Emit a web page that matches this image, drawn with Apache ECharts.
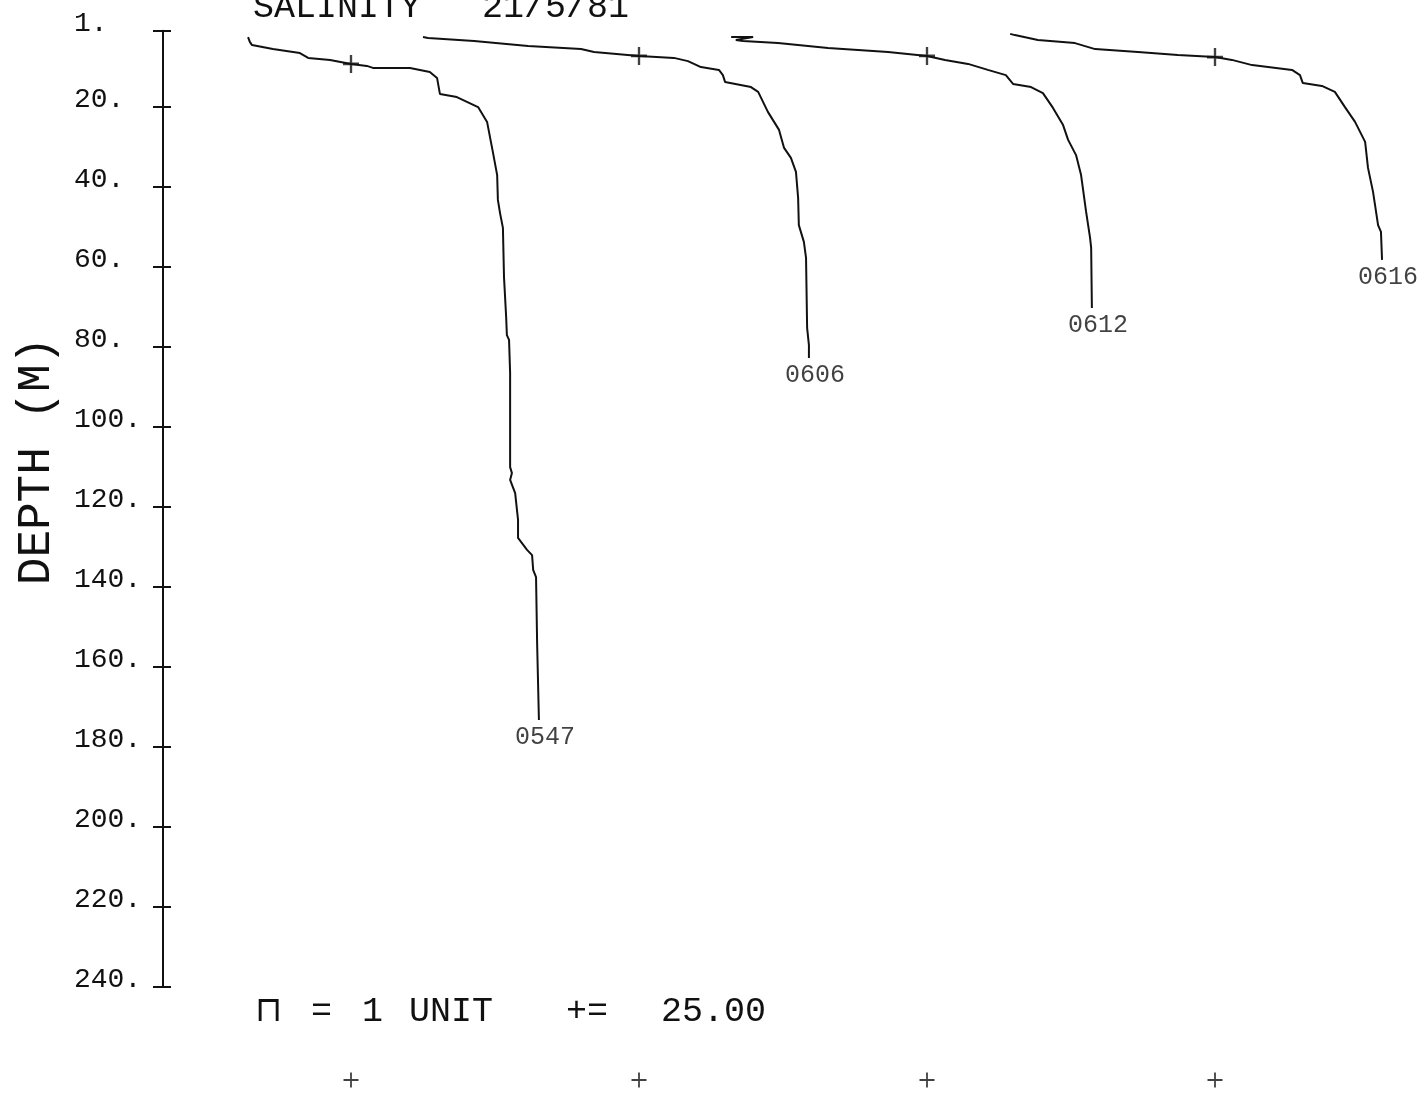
<!DOCTYPE html>
<html><head><meta charset="utf-8">
<script src="https://cdn.jsdelivr.net/npm/echarts/dist/echarts.min.js"></script>
<style>html,body{margin:0;padding:0;background:#fff}#c{width:1425px;height:1093px}</style>
</head><body><div id="c"></div>
<script>
// ---- data (depth in m, salinity) ----
const stations = ['0547', '0606', '0612', '0616'];
const depthTicks = [1, 20, 40, 60, 80, 100, 120, 140, 160, 180, 200, 220, 240];
const plusSalinity = 25.00;      // "+ = 25.00" reference value
const stationOffset = 8;         // salinity units between successive profiles

const depth0547 = [2.6, 3.8, 4.6, 5.6, 6.6, 7.8, 8.3, 9.3, 9.8, 10.3, 10.3, 11.3, 12.8, 16.8, 17.6, 20.1, 23.8, 31.3, 37.1, 43.3, 46.6, 50.3, 62.6, 72.6, 77.1, 78.3, 86.6, 110.1, 111.6, 113.3, 116.6, 123.3, 127.8, 130.8, 132.1, 135.8, 137.6, 154.1, 173.3];
const sal0547   = [22.14, 22.19, 22.25, 22.83, 23.58, 23.81, 24.42, 25.00, 25.44, 25.61, 26.64, 27.19, 27.39, 27.47, 27.94, 28.53, 28.78, 28.94, 29.06, 29.08, 29.14, 29.22, 29.25, 29.31, 29.33, 29.39, 29.42, 29.42, 29.47, 29.42, 29.56, 29.64, 29.64, 29.89, 30.03, 30.06, 30.14, 30.17, 30.22];

const depth0606 = [2.6, 2.8, 3.6, 4.8, 5.6, 6.3, 7.3, 7.8, 8.6, 10.1, 10.8, 12.1, 13.8, 15.1, 16.3, 21.3, 25.8, 30.3, 32.8, 36.3, 42.8, 49.6, 53.8, 57.8, 75.3, 79.6, 82.8];
const sal0606   = [19.00, 19.14, 20.42, 21.92, 23.39, 23.75, 25.00, 25.97, 26.36, 26.72, 27.22, 27.33, 27.39, 28.11, 28.31, 28.58, 28.89, 29.03, 29.22, 29.36, 29.42, 29.44, 29.58, 29.64, 29.67, 29.72, 29.72];

const depth0612 = [2.6, 2.6, 3.3, 3.6, 4.1, 5.3, 6.3, 7.3, 8.3, 9.3, 10.8, 12.1, 14.3, 15.1, 16.6, 20.3, 24.6, 28.3, 32.1, 37.1, 46.3, 52.8, 55.3, 70.3];
const sal0612   = [19.56, 20.17, 19.69, 19.89, 20.86, 22.25, 23.92, 25.00, 25.50, 26.14, 26.69, 27.19, 27.39, 27.89, 28.22, 28.50, 28.78, 28.92, 29.14, 29.28, 29.42, 29.53, 29.56, 29.58];

const depth0616 = [1.8, 2.1, 3.3, 4.1, 5.6, 6.3, 7.1, 7.6, 8.3, 9.6, 10.8, 12.1, 14.1, 14.8, 16.3, 20.1, 23.8, 28.8, 35.3, 41.3, 49.6, 51.3, 58.3];
const sal0616   = [19.31, 19.44, 20.08, 21.11, 21.67, 22.86, 23.97, 25.00, 25.47, 26.03, 27.14, 27.36, 27.44, 27.97, 28.33, 28.61, 28.89, 29.17, 29.25, 29.39, 29.53, 29.61, 29.64];

const plusDepth = [9.3, 7.3, 7.3, 7.6];   // depth where each profile crosses 25.00

// ---- layout ----
const profiles = [[depth0547, sal0547], [depth0606, sal0606], [depth0612, sal0612], [depth0616, sal0616]];
const gridLeft = 163, gridTop = 30.7, gridH = 956, gridW = 1262;
const pxPerUnit = 36, firstPlusX = 351;
const xMin = plusSalinity - (firstPlusX - gridLeft) / pxPerUnit;
const xMax = xMin + gridW / pxPerUnit;
const FONT = 'Liberation Mono';
const INK = '#111';
const plusPath = 'path://M8,0 L8,16 M0,8 L16,8';

const series = [];
profiles.forEach(([dep, sal], i) => {
  series.push({
    type: 'line', xAxisIndex: 0, yAxisIndex: 0, symbol: 'none', silent: true,
    lineStyle: { color: INK, width: 2 },
    data: dep.map((d, k) => [sal[k] + i * stationOffset, d])
  });
});
series.push({
  type: 'scatter', xAxisIndex: 0, yAxisIndex: 0, symbolSize: 1, silent: true,
  itemStyle: { color: 'rgba(0,0,0,0)' },
  label: { show: true, position: 'bottom', distance: 4, offset: [6, 0],
    fontFamily: FONT, fontSize: 25, color: INK,
    formatter: p => stations[p.dataIndex] },
  data: profiles.map(([dep, sal], i) => [sal[sal.length - 1] + i * stationOffset, dep[dep.length - 1]])
});
series.push({
  type: 'scatter', xAxisIndex: 0, yAxisIndex: 0, symbol: plusPath, symbolSize: [16, 18], silent: true,
  itemStyle: { color: 'none', borderColor: INK, borderWidth: 2.5 },
  data: stations.map((s, i) => [plusSalinity + i * stationOffset, plusDepth[i]])
});
series.push({
  type: 'scatter', xAxisIndex: 1, yAxisIndex: 2, symbol: plusPath, symbolSize: [15, 15], silent: true,
  itemStyle: { color: 'none', borderColor: INK, borderWidth: 1.8 },
  data: stations.map((s, i) => [plusSalinity + i * stationOffset, 0])
});

const chart = echarts.init(document.getElementById('c'), null, { renderer: 'canvas' });
chart.setOption({
  animation: false,
  backgroundColor: '#fff',
  grid: [
    { left: gridLeft, top: gridTop, width: gridW, height: gridH },
    { left: gridLeft, top: 1070, width: gridW, height: 20 }
  ],
  xAxis: [
    { type: 'value', gridIndex: 0, min: xMin, max: xMax, show: false },
    { type: 'value', gridIndex: 1, min: xMin, max: xMax, show: false }
  ],
  yAxis: [
    { type: 'value', gridIndex: 0, min: 1, max: 240, inverse: true, position: 'left',
      axisLine: { show: true, lineStyle: { color: INK, width: 2 } },
      axisTick: { show: true, inside: false, length: 10, customValues: depthTicks, lineStyle: { color: INK, width: 2 } },
      axisLabel: { show: true, customValues: depthTicks, align: 'left', margin: 89,
        fontFamily: FONT, fontSize: 28, color: INK, verticalAlign: 'bottom', lineHeight: 14,
        formatter: v => v + '.' },
      splitLine: { show: false } },
    { type: 'value', gridIndex: 0, min: 1, max: 240, inverse: true, position: 'right', offset: -gridW,
      axisLine: { show: false },
      axisTick: { show: true, inside: false, length: 8, customValues: depthTicks, lineStyle: { color: INK, width: 2 } },
      axisLabel: { show: false }, splitLine: { show: false } },
    { type: 'value', gridIndex: 1, min: -1, max: 1, show: false }
  ],
  graphic: [
    { type: 'text', x: 253, y: 8, style: { text: 'SALINITY', fontFamily: FONT, fontSize: 35, fill: INK, verticalAlign: 'middle', align: 'left' } },
    { type: 'text', x: 482, y: 8, style: { text: '21/5/81', fontFamily: FONT, fontSize: 35, fill: INK, verticalAlign: 'middle', align: 'left' } },
    { type: 'text', x: 37, y: 461, rotation: Math.PI / 2, style: { text: 'DEPTH (M)', fontFamily: FONT, fontSize: 46, fill: INK, verticalAlign: 'middle', align: 'center' } },
    { type: 'text', x: 255, y: 1012, style: { text: '⊓', fontFamily: FONT, fontSize: 35, fill: INK, verticalAlign: 'middle', align: 'left' } },
    { type: 'text', x: 311, y: 1012, style: { text: '=', fontFamily: FONT, fontSize: 35, fill: INK, verticalAlign: 'middle', align: 'left' } },
    { type: 'text', x: 362, y: 1012, style: { text: '1', fontFamily: FONT, fontSize: 35, fill: INK, verticalAlign: 'middle', align: 'left' } },
    { type: 'text', x: 409, y: 1012, style: { text: 'UNIT', fontFamily: FONT, fontSize: 35, fill: INK, verticalAlign: 'middle', align: 'left' } },
    { type: 'text', x: 566, y: 1012, style: { text: '+=', fontFamily: FONT, fontSize: 35, fill: INK, verticalAlign: 'middle', align: 'left' } },
    { type: 'text', x: 661, y: 1012, style: { text: '25.00', fontFamily: FONT, fontSize: 35, fill: INK, verticalAlign: 'middle', align: 'left' } }
  ],
  series: series
});
</script>
</body></html>
